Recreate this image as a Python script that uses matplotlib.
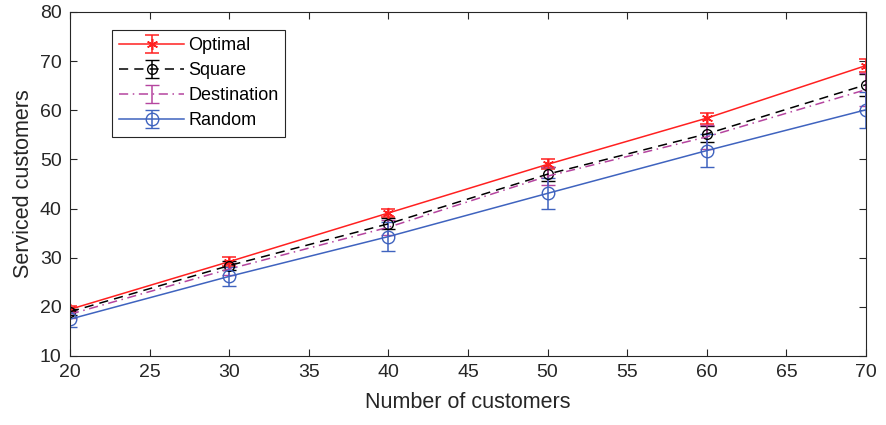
import numpy as np
import matplotlib.pyplot as plt

plt.rcParams['font.family'] = ['Liberation Sans', 'DejaVu Sans']

customers = [20, 30, 40, 50, 60, 70]

optimal = [19.5, 29.2, 39.1, 49.0, 58.4, 69.1]
optimal_err = [0.6, 0.9, 0.8, 1.0, 1.1, 1.3]

square = [19.0, 28.4, 36.9, 47.0, 55.2, 65.2]
square_err = [0.6, 1.0, 1.1, 1.4, 1.6, 2.2]

destination = [18.5, 27.7, 36.2, 46.6, 54.6, 64.2]
destination_err = [0.8, 1.2, 1.5, 1.8, 2.4, 3.4]

rand = [17.5, 26.2, 34.3, 43.1, 51.8, 60.1]
rand_err = [1.5, 2.0, 3.0, 3.1, 3.4, 3.7]

fig = plt.figure(figsize=(8.87, 4.25), dpi=100)
ax = fig.add_axes([70/887, 1-356/425, (866-70)/887, (356-12)/425])

ax.errorbar(customers, optimal, yerr=optimal_err, color='#ff2020', ls='-', lw=1.1,
            marker=(6, 2, 0), ms=8, mew=1.1, capsize=5, elinewidth=1.1, label='Optimal')
ax.errorbar(customers, square, yerr=square_err, color='black', ls=(0, (6, 4)), lw=1.1,
            marker='o', ms=7, mfc='none', capsize=5, elinewidth=1.1, label='Square')
ax.errorbar(customers, destination, yerr=destination_err, color='#b5459f', ls=(0, (6, 3, 1, 3)), lw=1.1,
            marker='none', capsize=5, elinewidth=1.1, label='Destination')
ax.errorbar(customers, rand, yerr=rand_err, color='#3f63bf', ls='-', lw=1.1,
            marker='o', ms=9, mfc='none', capsize=5, elinewidth=1.1, label='Random')

ax.set_xlim(20, 70)
ax.set_ylim(10, 80)
ax.set_xticks(np.arange(20, 71, 5))
ax.set_yticks(np.arange(10, 81, 10))
ax.tick_params(direction='in', top=True, right=True, labelsize=14, length=5, colors='#262626', pad=6)
ax.set_xlabel('Number of customers', fontsize=15.5, color='#262626', labelpad=8)
ax.set_ylabel('Serviced customers', fontsize=15.5, color='#262626', labelpad=4)
for s in ax.spines.values():
    s.set_color('#262626')
    s.set_linewidth(0.8)

leg = ax.legend(loc='upper left', bbox_to_anchor=(0.053, 0.948), borderaxespad=0, fontsize=13,
                frameon=True, fancybox=False, edgecolor='#262626', framealpha=1, handlelength=3.6,
                handletextpad=0.2, borderpad=0.4, labelspacing=0.45)
leg.get_frame().set_linewidth(0.8)

plt.savefig('out.png', dpi=100)
